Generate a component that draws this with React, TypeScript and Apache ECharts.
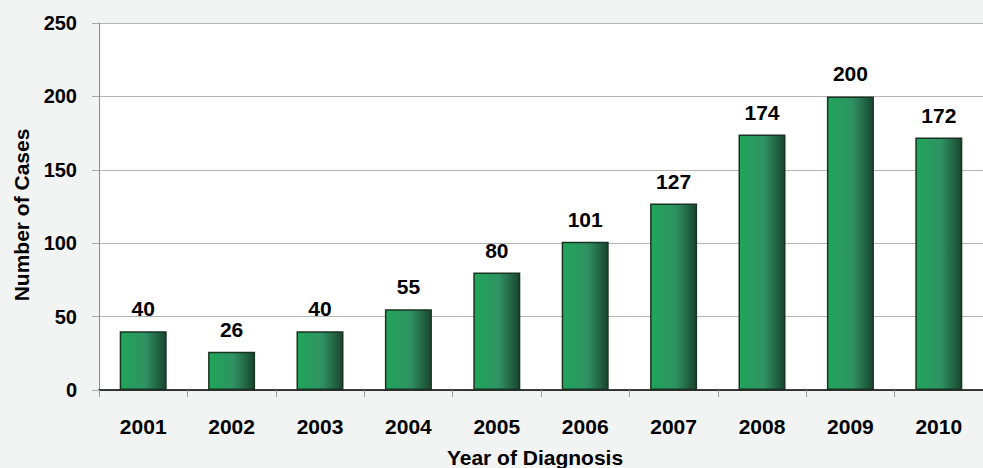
import React, { useEffect, useRef } from "react";
import * as echarts from "echarts";

const categories = ["2001", "2002", "2003", "2004", "2005", "2006", "2007", "2008", "2009", "2010"];
const cases = [40, 26, 40, 55, 80, 101, 127, 174, 200, 172];
const yTicks = { min: 0, max: 250, interval: 50 };
const xTitle = "Year of Diagnosis";
const yTitle = "Number of Cases";

const FONT = "'Liberation Sans', Arial, sans-serif";

export default function App() {
  const ref = useRef<HTMLDivElement>(null);
  useEffect(() => {
    if (!ref.current) return;
    const chart = echarts.init(ref.current, null, { renderer: "svg" });
    chart.setOption({
      animation: false,
      backgroundColor: "#f2f3f3",
      textStyle: { fontFamily: FONT },
      grid: {
        left: 99,
        right: 0,
        top: 23,
        bottom: 78,
        show: true,
        backgroundColor: "#ffffff",
        borderWidth: 0,
      },
      graphic: [
        {
          type: "text",
          x: 535,
          y: 457,
          style: {
            text: xTitle,
            fontFamily: FONT,
            fontWeight: "bold",
            fontSize: 21,
            fill: "#000",
            align: "center",
            verticalAlign: "middle",
          },
        },
        {
          type: "text",
          x: 21,
          y: 215,
          rotation: Math.PI / 2,
          style: {
            text: yTitle,
            fontFamily: FONT,
            fontWeight: "bold",
            fontSize: 21,
            fill: "#000",
            align: "center",
            verticalAlign: "middle",
          },
        },
      ],
      xAxis: {
        type: "category",
        data: categories,
        axisLine: { lineStyle: { color: "#000", width: 1.5 } },
        axisTick: { show: true, length: 7, lineStyle: { color: "#999" } },
        axisLabel: { margin: 26, fontFamily: FONT, fontWeight: "bold", fontSize: 21, color: "#000" },
      },
      yAxis: {
        type: "value",
        min: yTicks.min,
        max: yTicks.max,
        interval: yTicks.interval,
        axisLine: { show: true, lineStyle: { color: "#8a8a8a", width: 1 } },
        axisTick: { show: true, length: 7, lineStyle: { color: "#aaa" } },
        splitLine: { show: true, lineStyle: { color: "#b5b5b5", width: 1 } },
        axisLabel: { margin: 22, fontFamily: FONT, fontWeight: "bold", fontSize: 20, color: "#000" },
      },
      series: [
        {
          type: "bar",
          data: cases,
          barWidth: 47,
          itemStyle: {
            borderColor: "#1a3222",
            borderWidth: 1.5,
            color: new echarts.graphic.LinearGradient(0, 0, 1, 0, [
              { offset: 0, color: "#20a65a" },
              { offset: 0.55, color: "#2f9163" },
              { offset: 1, color: "#194530" },
            ]),
          },
          label: {
            show: true,
            position: "top",
            distance: 12,
            fontFamily: FONT,
            fontWeight: "bold",
            fontSize: 21,
            color: "#000",
          },
        },
      ],
    });
    return () => chart.dispose();
  }, []);
  return (
    <div
      ref={ref}
      style={{ position: "fixed", left: 0, top: 0, width: 983, height: 468 }}
    />
  );
}
